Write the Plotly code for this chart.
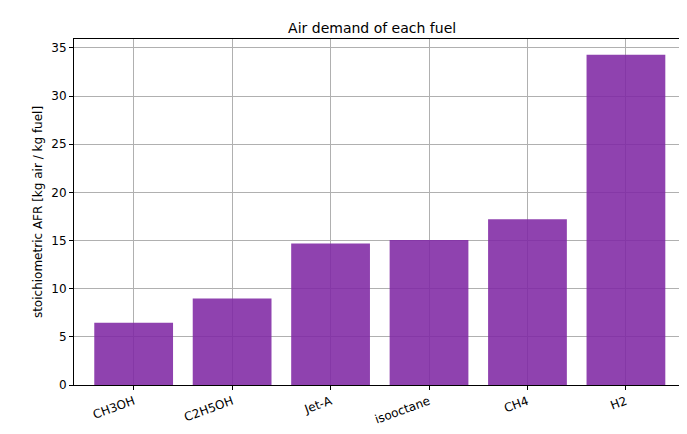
import plotly.graph_objects as go

fuels = ["CH3OH", "C2H5OH", "Jet-A", "isooctane", "CH4", "H2"]
afr = [6.46, 8.98, 14.7, 15.05, 17.2, 34.3]

fig = go.Figure(go.Bar(x=fuels, y=afr, marker=dict(color="rgb(128,40,165)", line=dict(width=0)),
                       opacity=0.88, width=0.8))
ax = dict(showline=True, mirror=True, linecolor="black", linewidth=1, ticks="outside",
          ticklen=4, tickcolor="black", showgrid=True, gridcolor="#b0b0b0", gridwidth=1,
          zeroline=False, automargin=False, tickfont=dict(size=12))
fig.update_layout(
    width=687, height=434, paper_bgcolor="white", plot_bgcolor="white",
    margin=dict(l=66, r=10, t=31, b=57),
    font=dict(family="DejaVu Sans", size=12, color="black"),
    title=dict(text="Air demand of each fuel", x=0.53, xanchor="center", y=0.965, font=dict(size=14)),
    showlegend=False,
    xaxis=dict(ax, range=[-0.606, 5.6], tickangle=-20),
    yaxis=dict(ax, range=[0, 35.93], dtick=5,
               title=dict(text="stoichiometric AFR [kg air / kg fuel]", standoff=6, font=dict(size=12))),
)
fig.write_html("out.html")
